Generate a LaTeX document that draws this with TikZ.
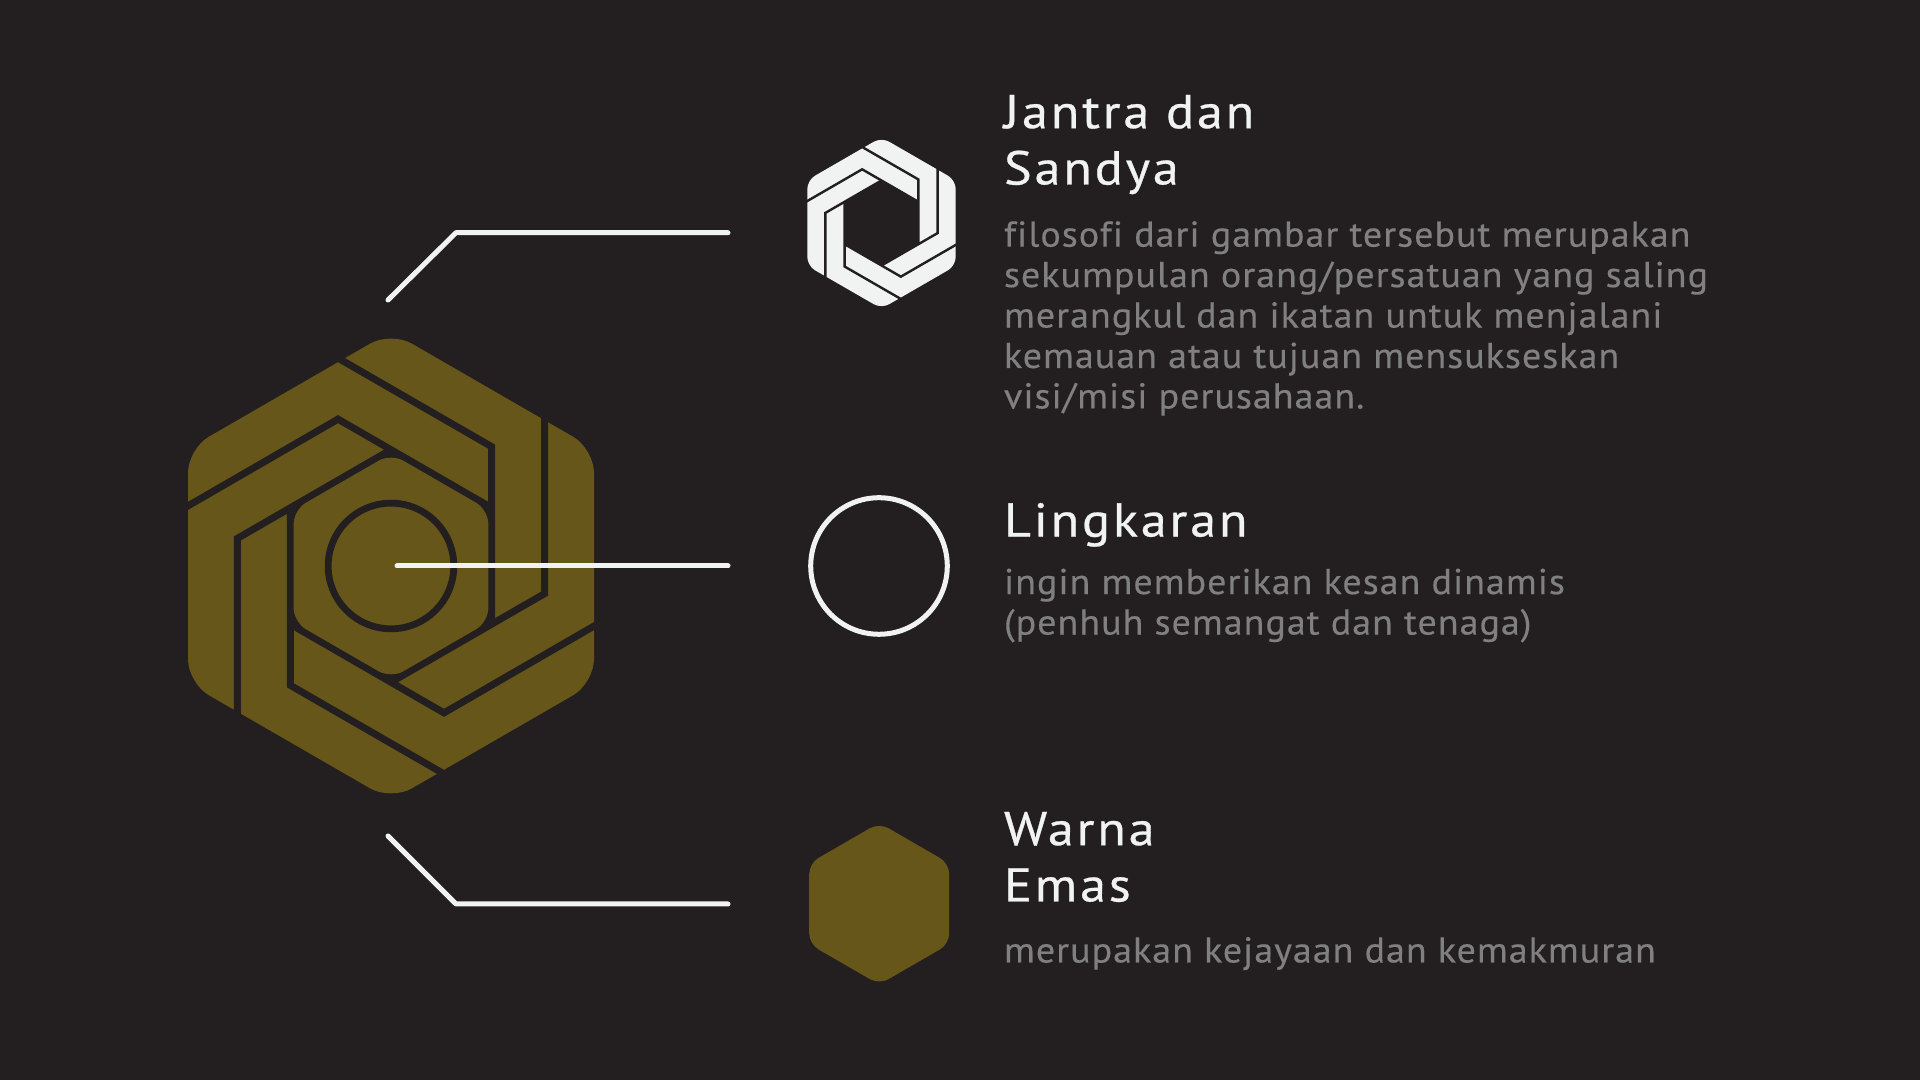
\documentclass[tikz,border=0pt]{standalone}
\usepackage{fontspec}
\setmainfont{PT Sans}
\usetikzlibrary{positioning}
\definecolor{bgdark}{RGB}{35,31,32}
\definecolor{goldmark}{RGB}{102,86,25}
\definecolor{whitemark}{RGB}{241,243,243}
\definecolor{softgraytext}{RGB}{128,128,128}
\newfontfamily\headfont[LetterSpace=6,FakeStretch=1.1,FakeBold=0.6,Ligatures=NoCommon]{PT Sans}
\newfontfamily\bodyfont[LetterSpace=2.8,FakeStretch=1.06,FakeBold=0.35,Ligatures=NoCommon]{PT Sans}
\tikzset{
  leader/.style={draw=whitemark, line width=0.05cm, line cap=round, line join=round},
  headtext/.style={font=\headfont\fontsize{13.5}{16}\selectfont, text=whitemark, align=left,
                   anchor=north west, inner sep=0pt, outer sep=0pt},
  bodytext/.style={font=\bodyfont\fontsize{10.2}{11.5}\selectfont, text=softgraytext, align=left,
                   anchor=north west, inner sep=0pt, outer sep=0pt},
  ringmark/.style={circle, draw=whitemark, line width=0.05cm, minimum size=1.365cm, inner sep=0pt},
}
% mark: centre, scale, fill, cut width, corner distance
\newcommand{\jantramark}[5]{
  \begin{scope}[shift={(#1)}, scale=#2]
    \fill[#3, rounded corners=#5] (30:234.4) -- (90:234.4) -- (150:234.4) -- (210:234.4) -- (270:234.4) -- (330:234.4) -- cycle;
    \fill[bgdark] (30:116.3) -- (90:116.3) -- (150:116.3) -- (210:116.3) -- (270:116.3) -- (330:116.3) -- cycle;
    \foreach \r in {0,60,...,300}
      \draw[bgdark, line width=#4, rotate=\r] (-57,-210.2) -- (100.7,-119.3) -- (100.7,58.1);
  \end{scope}
}
\begin{document}
\begin{tikzpicture}[x=0.01cm, y=-0.01cm]
\useasboundingbox (0,0) rectangle (1920,1080);
\fill[bgdark] (0,0) rectangle (1920,1080);

% big mark
\jantramark{391,566}{1}{goldmark}{0.07cm}{0.24cm}
\begin{scope}[shift={(391,566)}]
  \fill[goldmark, rounded corners=0.14cm] (30:112.4) -- (90:112.4) -- (150:112.4) -- (210:112.4) -- (270:112.4) -- (330:112.4) -- cycle;
  \node[circle, draw=bgdark, line width=0.068cm, minimum size=1.256cm, inner sep=0pt] (core) at (0,0) {};
\end{scope}

% small marks
\jantramark{881.5,223}{0.3655}{whitemark}{0.024cm}{0.088cm}
\node[ringmark] (lingkaran) at (879,566) {};
\begin{scope}[shift={(879.2,903.7)}]
  \fill[goldmark, rounded corners=0.105cm] (30:80.8) -- (90:80.8) -- (150:80.8) -- (210:80.8) -- (270:80.8) -- (330:80.8) -- cycle;
\end{scope}

% leaders
\coordinate (topa) at (388,300);
\coordinate (topb) at (456,232.7);
\coordinate (topc) at (728,232.7);
\coordinate (mida) at (397,566);
\coordinate (midc) at (728,566);
\coordinate (lowa) at (388,836);
\coordinate (lowb) at (456,904);
\coordinate (lowc) at (728,904);
\draw[leader] (topa) -- (topb) -- (topc);
\draw[leader] (mida) -- (midc);
\draw[leader] (lowa) -- (lowb) -- (lowc);

% texts
\node[headtext] (jantra) at (1004,95) {Jantra dan\\Sandya};
\node[bodytext, below=0.27cm of jantra.south west, anchor=north west] (jantrabody) {filosofi dari gambar tersebut merupakan\\sekumpulan orang/persatuan yang saling\\merangkul dan ikatan untuk menjalani\\kemauan atau tujuan mensukseskan\\visi/misi perusahaan.};
\node[headtext] (lingkar) at (1004,503) {Lingkaran};
\node[bodytext, below=0.22cm of lingkar.south west, anchor=north west] (lingkarbody) {ingin memberikan kesan dinamis\\(penhuh semangat dan tenaga)};
\node[headtext] (warna) at (1004,812) {Warna\\Emas};
\node[bodytext, below=0.35cm of warna.south west, anchor=north west] (warnabody) {merupakan kejayaan dan kemakmuran};
\end{tikzpicture}
\end{document}
